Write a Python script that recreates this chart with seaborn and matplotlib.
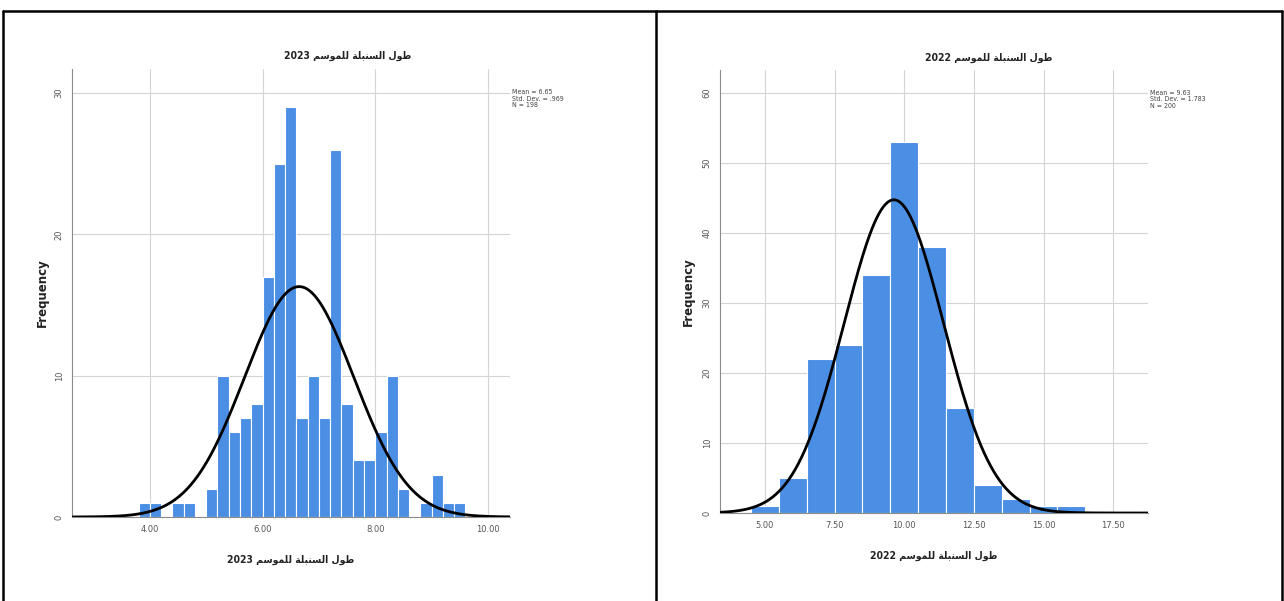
import numpy as np
import pandas as pd
import matplotlib
matplotlib.use("Agg")
import matplotlib.pyplot as plt
import seaborn as sns
from matplotlib.lines import Line2D

# ---------------- data ----------------
# Arabic label (logical text: "طول السنبلة للموسم"), written in presentation forms in visual order
ar_label = "\ufee2\ufeb3\ufeee\ufee4\ufee0\ufedf \ufe94\ufee0\ufe92\ufee8\ufeb4\ufedf\ufe8d \ufedd\ufeee\ufec3"
year_left = "2023"
year_right = "2022"

# 2023 histogram (bin width 0.2, first edge 3.8)
left_start = 3.8
left_width = 0.2
left_counts = [1, 1, 0, 1, 1, 0, 2, 10, 6, 7, 8, 17, 25, 29, 7, 10, 7, 26, 8, 4, 4, 6, 10, 2, 0, 1, 3, 1, 1]
left_mean, left_sd, left_n = 6.65, 0.969, 198
left_stats = ["Mean = 6.65", "Std. Dev. = .969", "N = 198"]
left_xticks = [4.0, 6.0, 8.0, 10.0]
left_yticks = [0, 10, 20, 30]

# 2022 histogram (bin width 1.0, first edge 4.5)
right_start = 4.5
right_width = 1.0
right_counts = [1, 5, 22, 24, 34, 53, 38, 15, 4, 2, 1, 1]
right_mean, right_sd, right_n = 9.63, 1.783, 200
right_stats = ["Mean = 9.63", "Std. Dev. = 1.783", "N = 200"]
right_xticks = [5.0, 7.5, 10.0, 12.5, 15.0, 17.5]
right_yticks = [0, 10, 20, 30, 40, 50, 60]

# ---------------- style ----------------
sns.set_theme(style="white")
plt.rcParams['font.family'] = ['DejaVu Sans']

BAR = "#4a8fe3"
GRID = "#d4d4d4"
SPINE = "#8c8c8c"
TICKC = "#555555"

W, H = 1284, 601
fig = plt.figure(figsize=(W / 100, H / 100), dpi=100)


def px_axes(x0, y0, x1, y1):
    return fig.add_axes([x0 / W, 1 - y1 / H, (x1 - x0) / W, (y1 - y0) / H])


def draw_panel(ax, start, width, counts, mean, sd, n, xlim, ylim, xticks, yticks, year, stats,
               title_x, title_y):
    edges = [round(start + width * i, 6) for i in range(len(counts) + 1)]
    centers = [(edges[i] + edges[i + 1]) / 2 for i in range(len(counts))]
    df = pd.DataFrame({"x": centers, "w": counts})
    sns.histplot(data=df, x="x", weights="w", bins=edges, ax=ax, color=BAR,
                 edgecolor="white", linewidth=0.8, alpha=1.0, zorder=2)
    xs = np.linspace(xlim[0], xlim[1], 400)
    ys = n * width / (sd * np.sqrt(2 * np.pi)) * np.exp(-0.5 * ((xs - mean) / sd) ** 2)
    sns.lineplot(x=xs, y=ys, ax=ax, color="black", linewidth=2.0, zorder=3)
    ax.set_xlim(*xlim)
    ax.set_ylim(*ylim)
    ax.set_xticks(xticks)
    ax.set_xticklabels([f"{t:.2f}" for t in xticks])
    ax.set_yticks(yticks)
    ax.set_yticklabels([str(t) for t in yticks], rotation=90, va="center")
    ax.tick_params(axis="both", labelsize=6, colors=TICKC, length=0, pad=6)
    ax.grid(True, color=GRID, linewidth=0.8, zorder=0)
    ax.set_axisbelow(True)
    for s in ["top", "right"]:
        ax.spines[s].set_visible(False)
    for s in ["left", "bottom"]:
        ax.spines[s].set_color(SPINE)
        ax.spines[s].set_linewidth(0.8)
    ax.set_ylabel("Frequency", fontsize=8.5, fontweight="bold", color="#222222")
    ax.set_xlabel(year + " " + ar_label, fontsize=7.5, fontweight="bold", fontstretch="condensed",
                  color="#222222", labelpad=15)
    fig.text(title_x / W, 1 - title_y / H, year + " " + ar_label, fontsize=7.5, fontweight="bold",
             fontstretch="condensed", color="#222222", ha="center", va="center")
    ax.text(1.005, 0.955, "\n".join(stats), transform=ax.transAxes, fontsize=5,
            fontstretch="condensed", color="#444444", va="top", ha="left", linespacing=1.1)


axL = px_axes(72, 69, 510, 517)
draw_panel(axL, left_start, left_width, left_counts, left_mean, left_sd, left_n,
           (2.62, 10.39), (0, 31.7), left_xticks, left_yticks, year_left, left_stats, 348, 56)
axL.yaxis.set_label_coords(-0.052, 0.5)

axR = px_axes(720, 70, 1148, 513)
draw_panel(axR, right_start, right_width, right_counts, right_mean, right_sd, right_n,
           (3.39, 18.75), (0, 63.3), right_xticks, right_yticks, year_right, right_stats, 989, 58)
axR.yaxis.set_label_coords(-0.059, 0.5)

# outer table-like frame
def fline(x0, y0, x1, y1, lw=1.8):
    fig.add_artist(Line2D([x0 / W, x1 / W], [1 - y0 / H, 1 - y1 / H], color="black",
                          linewidth=lw, transform=fig.transFigure))

fline(3, 11, 1282, 11)
fline(3, 11, 3, 601)
fline(1282, 11, 1282, 601)
fline(656, 11, 656, 601)

fig.savefig("out.png", dpi=100, facecolor="white")
